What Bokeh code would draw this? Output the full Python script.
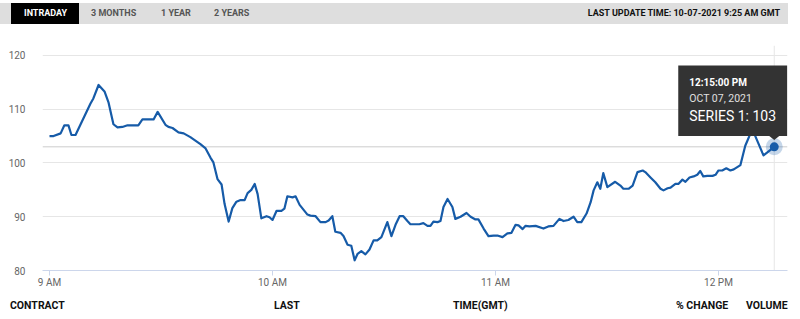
from bokeh.plotting import figure
from bokeh.models import FixedTicker, Span, Label, Div, Range1d
from bokeh.layouts import column
from bokeh.embed import file_html
from bokeh.resources import INLINE

# ---------------- data ----------------
TABS = ["INTRADAY", "3 MONTHS", "1 YEAR", "2 YEARS"]
LAST_UPDATE = "LAST UPDATE TIME: 10-07-2021 9:25 AM GMT"
FOOTER = ["CONTRACT", "LAST", "TIME(GMT)", "% CHANGE", "VOLUME"]
X_TICKS = [0, 60, 120, 180]          # minutes after 9 AM
X_TICK_LABELS = ["9 AM", "10 AM", "11 AM", "12 PM"]
Y_TICKS = [80, 90, 100, 110, 120]
TOOLTIP = ["12:15:00 PM", "OCT 07, 2021", "SERIES 1: 103"]

minutes = [0.0, 1.1, 3.0, 4.0, 5.1, 5.9, 7.0, 11.0, 11.8, 13.2,
           14.8, 15.9, 17.2, 18.3, 19.6, 21.0, 23.9, 25.0, 28.0, 29.1,
           31.2, 32.0, 33.1, 34.7, 36.1, 37.9, 40.6, 42.0, 43.3, 44.1,
           45.2, 46.3, 47.1, 48.2, 49.2, 50.3, 51.4, 52.5, 53.3, 54.3,
           55.2, 56.0, 57.0, 58.4, 59.2, 60.0, 61.1, 62.4, 63.2, 64.0,
           65.4, 66.2, 67.3, 69.4, 70.2, 71.6, 72.9, 74.3, 75.1, 76.1,
           76.9, 78.3, 79.1, 80.2, 81.2, 82.1, 82.9, 83.9, 85.0, 86.1,
           87.2, 88.2, 89.3, 90.9, 92.0, 93.1, 94.2, 95.2, 96.3, 97.1,
           98.5, 99.5, 100.6, 101.7, 102.5, 103.3, 104.4, 105.2, 106.0, 107.1,
           108.4, 109.2, 110.6, 112.2, 113.3, 114.6, 115.4, 116.8, 118.1, 119.5,
           120.5, 121.9, 123.2, 124.3, 125.4, 126.2, 127.3, 128.1, 129.1, 130.8,
           132.9, 134.2, 135.6, 137.2, 138.3, 139.6, 141.0, 142.0, 143.1, 144.5,
           145.6, 146.4, 147.4, 148.2, 149.0, 150.1, 152.2, 153.6, 154.4, 155.8,
           156.9, 158.2, 159.6, 160.3, 161.7, 163.0, 164.4, 165.2, 166.3, 167.1,
           168.4, 169.2, 170.3, 171.1, 172.2, 173.3, 174.3, 175.1, 175.9, 177.0,
           178.4, 179.2, 180.0, 181.0, 182.1, 183.2, 184.1, 185.9, 187.2, 189.1,
           190.5, 192.1, 193.4, 195.0]

prices = [105.0, 105.0, 105.5, 107.0, 107.0, 105.2, 105.2, 111.0, 112.0, 114.5,
          113.3, 111.2, 107.2, 106.6, 106.7, 107.0, 107.0, 108.1, 108.1, 109.5,
          107.1, 106.7, 106.5, 105.7, 105.5, 104.8, 103.5, 102.7, 101.0, 100.1,
          97.0, 96.0, 92.4, 89.1, 91.6, 92.8, 93.1, 93.1, 94.4, 95.0,
          96.1, 94.2, 89.7, 90.1, 89.9, 89.4, 91.1, 91.1, 91.5, 93.8,
          93.6, 93.8, 92.2, 90.4, 90.2, 90.1, 89.0, 89.0, 89.3, 90.1,
          87.2, 87.0, 86.4, 84.8, 84.6, 81.9, 83.1, 83.6, 83.0, 83.9,
          85.6, 85.6, 86.2, 89.0, 86.4, 88.5, 90.1, 90.1, 89.2, 88.6,
          88.6, 88.6, 88.8, 88.3, 88.3, 89.1, 89.0, 89.2, 91.8, 93.3,
          91.8, 89.6, 90.0, 90.7, 90.0, 89.5, 89.5, 87.8, 86.4, 86.5,
          86.5, 86.2, 86.9, 87.0, 88.5, 88.4, 87.7, 88.3, 88.2, 88.3,
          87.8, 88.2, 88.3, 89.6, 89.2, 89.4, 90.0, 89.0, 89.0, 90.6,
          92.7, 94.9, 96.4, 95.2, 98.1, 95.5, 96.5, 95.8, 95.2, 95.2,
          95.8, 98.3, 98.6, 98.3, 97.3, 96.4, 95.2, 94.9, 95.3, 95.4,
          96.1, 96.1, 96.9, 96.5, 97.3, 97.5, 97.8, 98.5, 97.5, 97.6,
          97.6, 97.8, 98.6, 98.6, 99.0, 98.6, 98.8, 99.6, 103.2, 106.3,
          104.0, 101.4, 102.1, 103.0]

# ---------------- layout constants ----------------
W = 800
HEADER_H = 30
FOOTER_H = 29
FIG_H = 319 - HEADER_H - FOOTER_H
BORDER_L, BORDER_R, BORDER_T, BORDER_B = 42, 13, 15, 18
PX_PER_MIN = 223.0 / 60.0
PX_PER_UNIT = 54.25 / 10.0
frame_w = W - BORDER_L - BORDER_R
frame_h = FIG_H - BORDER_T - BORDER_B
x_start = -7.0 / PX_PER_MIN
x_end = x_start + frame_w / PX_PER_MIN
y_start = 80.0
y_end = y_start + frame_h / PX_PER_UNIT

LINE_COLOR = "#165ba8"
FONT = "Roboto"

p = figure(width=W, height=FIG_H, output_backend="svg", toolbar_location=None,
           x_range=Range1d(x_start, x_end), y_range=Range1d(y_start, y_end),
           min_border_left=BORDER_L, min_border_right=BORDER_R,
           min_border_top=BORDER_T, min_border_bottom=BORDER_B,
           outline_line_color=None, background_fill_color="white",
           border_fill_color="white")

# crosshair at the hovered (last) point, drawn beneath the glyphs
last_x, last_y = minutes[-1], prices[-1]
p.add_layout(Span(location=last_x, dimension="height", line_color="#e6e6e6",
                  line_width=1, level="underlay"))
p.add_layout(Span(location=last_y, dimension="width", line_color="#cccccc",
                  line_width=1, level="underlay"))

p.line(minutes, prices, line_color=LINE_COLOR, line_width=2.2, line_join="round")

# axes
p.xaxis.ticker = FixedTicker(ticks=X_TICKS)
p.xaxis.major_label_overrides = {t: l for t, l in zip(X_TICKS, X_TICK_LABELS)}
p.xaxis.axis_line_color = "#ccd6eb"
p.xaxis.major_tick_line_color = "#ccd6eb"
p.xaxis.major_tick_in = 0
p.xaxis.major_tick_out = 5
p.xaxis.minor_tick_line_color = None
p.xaxis.major_label_standoff = 1
p.xaxis.major_label_text_font = FONT
p.xaxis.major_label_text_font_size = "10px"
p.xaxis.major_label_text_color = "#666666"

p.yaxis.ticker = FixedTicker(ticks=Y_TICKS)
p.yaxis.axis_line_color = None
p.yaxis.major_tick_line_color = None
p.yaxis.minor_tick_line_color = None
p.yaxis.major_label_standoff = 11
p.yaxis.major_label_text_font = FONT
p.yaxis.major_label_text_font_size = "10px"
p.yaxis.major_label_text_color = "#666666"

p.xgrid.grid_line_color = None
p.ygrid.ticker = FixedTicker(ticks=Y_TICKS)
p.ygrid.grid_line_color = "#e6e6e6"

# marker with halo
p.scatter([last_x], [last_y], size=17, fill_color=LINE_COLOR, fill_alpha=0.25, line_color=None)
p.scatter([last_x], [last_y], size=9, fill_color=LINE_COLOR, line_color=None)

# tooltip box (positioned relative to the hovered point, in pixels)
def dx(px):
    return px / PX_PER_MIN

def dy(px):
    return px / PX_PER_UNIT

box_l = last_x - dx(96)
box_r = last_x + dx(13)
box_t = last_y + dy(82)
box_b = last_y + dy(11)
p.quad(left=[box_l], right=[box_r], top=[box_t], bottom=[box_b],
       fill_color="#333333", line_color=None)
p.patch([last_x - dx(5), last_x + dx(5), last_x],
        [box_b, box_b, last_y + dy(7)], fill_color="#333333", line_color=None)

p.add_layout(Label(x=last_x, y=last_y, x_offset=-85, y_offset=64, text=TOOLTIP[0],
                   text_font=FONT, text_font_size="10px", text_font_style="bold",
                   text_color="white", text_baseline="middle"))
p.add_layout(Label(x=last_x, y=last_y, x_offset=-85, y_offset=48, text=TOOLTIP[1],
                   text_font=FONT, text_font_size="10.5px",
                   text_color="#e0e0e0", text_baseline="middle"))
p.add_layout(Label(x=last_x, y=last_y, x_offset=-85, y_offset=31, text=TOOLTIP[2],
                   text_font=FONT, text_font_size="14px",
                   text_color="white", text_baseline="middle"))

# ---------------- header ----------------
tab_left = [24, 91, 161, 214]
spans = []
for i, (t, lx) in enumerate(zip(TABS, tab_left)):
    color = "#ffffff" if i == 0 else "#555555"
    spans.append(
        f'<span style="position:absolute;left:{lx}px;top:3px;line-height:21px;'
        f'font-size:9px;font-weight:700;color:{color};white-space:nowrap;">{t}</span>')
header_html = (
    f'<div style="position:relative;width:{W}px;height:{HEADER_H}px;'
    f'font-family:{FONT},sans-serif;background:white;">'
    '<div style="position:absolute;left:0px;top:3px;width:788px;height:21px;background:#dedede;"></div>'
    '<div style="position:absolute;left:11px;top:3px;width:68px;height:21px;background:#000000;"></div>'
    + "".join(spans) +
    f'<span style="position:absolute;right:20px;top:3px;line-height:21px;font-size:9px;'
    f'font-weight:700;color:#111111;white-space:nowrap;">{LAST_UPDATE}</span>'
    '</div>')
header = Div(text=header_html, width=W, height=HEADER_H, margin=0)

# ---------------- footer ----------------
foot_left = [10, 274, 453, 676, 746]
fspans = "".join(
    f'<span style="position:absolute;left:{lx}px;top:8px;line-height:16px;font-size:10.5px;'
    f'font-weight:700;color:#111111;white-space:nowrap;">{t}</span>'
    for t, lx in zip(FOOTER, foot_left))
footer_html = (f'<div style="position:relative;width:{W}px;height:{FOOTER_H}px;'
               f'font-family:{FONT},sans-serif;background:white;">{fspans}</div>')
footer = Div(text=footer_html, width=W, height=FOOTER_H, margin=0)

layout = column(header, p, footer, spacing=0)

with open("out.html", "w") as f:
    f.write(file_html(layout, INLINE))
